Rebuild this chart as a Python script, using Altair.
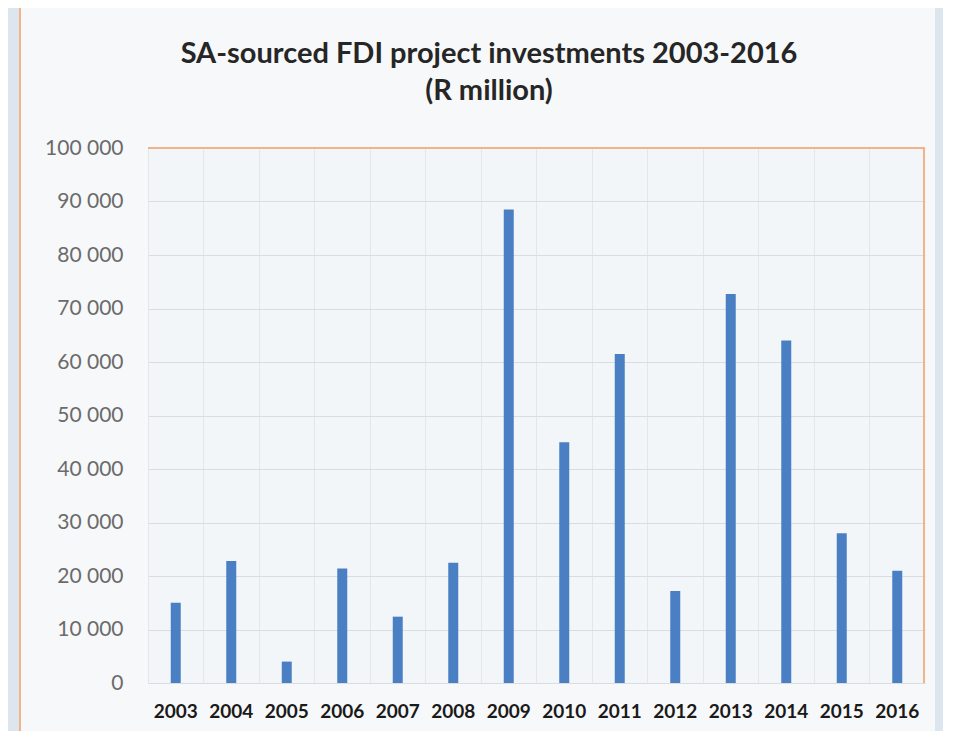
import altair as alt
import pandas as pd

years = ["2003", "2004", "2005", "2006", "2007", "2008", "2009",
         "2010", "2011", "2012", "2013", "2014", "2015", "2016"]
values = [15000, 22800, 4000, 21400, 12400, 22500, 88500,
          45000, 61500, 17200, 72700, 64000, 28000, 21000]
y_ticks = [0, 10000, 20000, 30000, 40000, 50000, 60000, 70000, 80000, 90000, 100000]
title_lines = ["SA-sourced FDI project investments 2003-2016", "(R million)"]

df = pd.DataFrame({"year": years, "value": values})

W, H = 777, 535
FONT = "Lato"

bars = alt.Chart(df).mark_bar(color="#4a80c3", size=10).encode(
    x=alt.X("year:N", sort=years, title=None,
            scale=alt.Scale(paddingInner=0, paddingOuter=0),
            axis=alt.Axis(labelAngle=0, labelFont=FONT, labelFontSize=19,
                          labelFontWeight="bold", labelColor="#1a1a1a",
                          labelPadding=19, ticks=False, domain=False,
                          grid=True, gridColor="#e3e7eb", gridWidth=1,
                          bandPosition=0)),
    y=alt.Y("value:Q", title=None,
            scale=alt.Scale(domain=[0, 100000], nice=False),
            axis=alt.Axis(values=y_ticks, labelFont=FONT, labelFontSize=21,
                          labelColor="#6b6b6b", labelPadding=25, ticks=False,
                          domain=False, gridColor="#d9dde1", gridWidth=1,
                          labelExpr="replace(format(datum.value, ','), regexp(',', 'g'), ' ')")),
)

one = pd.DataFrame({"a": [0]})
left_strip = alt.Chart(one).mark_rect(color="#dde6ee", clip=False).encode(
    x=alt.value(-141), x2=alt.value(-128), y=alt.value(-145), y2=alt.value(H + 60))
right_strip = alt.Chart(one).mark_rect(color="#dde6ee", clip=False).encode(
    x=alt.value(787), x2=alt.value(W + 30), y=alt.value(-145), y2=alt.value(H + 60))
left_orange = alt.Chart(one).mark_rule(color="#f1b488", strokeWidth=2, clip=False).encode(
    x=alt.value(-128), y=alt.value(-141), y2=alt.value(H + 52))
top_orange = alt.Chart(one).mark_rule(color="#f1b488", strokeWidth=2).encode(
    x=alt.value(0), x2=alt.value(W), y=alt.value(0))
right_orange = alt.Chart(one).mark_rule(color="#f1b488", strokeWidth=2).encode(
    x=alt.value(W - 1), y=alt.value(0), y2=alt.value(H))

title1 = alt.Chart(one).mark_text(
    text=title_lines[0], font=FONT, fontSize=29, fontWeight="bold",
    color="#262626", align="center", baseline="alphabetic", clip=False
).encode(x=alt.value(341), y=alt.value(-85))
title2 = alt.Chart(one).mark_text(
    text=title_lines[1], font=FONT, fontSize=29, fontWeight="bold",
    color="#262626", align="center", baseline="alphabetic", clip=False
).encode(x=alt.value(341), y=alt.value(-48))

chart = alt.layer(
    bars, left_strip, right_strip, left_orange, top_orange, right_orange,
    title1, title2
).properties(
    width=W, height=H,
    background="#f7f8f9",
    padding={"left": 140, "top": 140, "right": 18, "bottom": 48},
    autosize=alt.AutoSizeParams(type="none"),
).configure_view(fill="#f2f6f9", stroke="transparent")

chart.save("out.html", embed_options={"renderer": "svg", "actions": False})
